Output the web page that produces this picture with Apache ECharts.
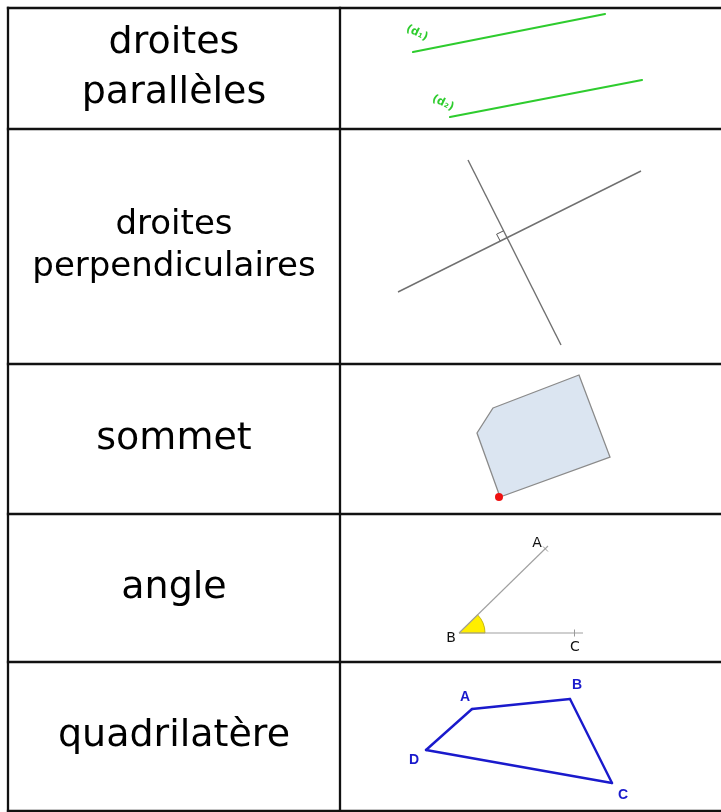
<!DOCTYPE html>
<html><head><meta charset="utf-8">
<script src="https://cdn.jsdelivr.net/npm/echarts@6/dist/echarts.min.js"></script>
<style>html,body{margin:0;padding:0;background:#fff}#c{width:721px;height:812px}</style>
</head><body><div id="c"></div>
<script>
// ---- table layout values ----
const columnX = [8, 340];
const tableRight = 721;
const rowY = [8, 129, 364, 514, 662, 811];
const terms = [['droites', 'parallèles'], ['droites', 'perpendiculaires'], ['sommet'], ['angle'], ['quadrilatère']];

// ---- row 1: parallel lines ----
const parallelLines = [[413, 52, 605, 14], [450, 117, 642, 80]];
const parallelNames = ['(d₁)', '(d₂)'];
const parallelNamePos = [[417, 33], [443, 103]];

// ---- row 2: perpendicular lines ----
const perpLines = [[398, 292, 641, 171], [468, 160, 561, 345]];
const rightAngleMark = [[500.2, 241.0], [496.6, 234.2], [503.6, 230.8]];

// ---- row 3: vertex of a polygon ----
const sommetPolygon = [[493, 408], [579, 375], [610, 457], [500, 497], [477, 433]];
const sommetVertex = [[499, 497]];

// ---- row 4: angle ABC ----
const angleVertex = [459, 633];
const angleRayEnds = [[548, 546], [583, 633]];
const angleTicks = [[545.5, 549], [574.5, 633]];
const angleNames = ['A', 'B', 'C'];
const angleNamePos = [[537, 543], [451, 638], [575, 647]];

// ---- row 5: quadrilateral ABCD ----
const quadNames = ['A', 'B', 'C', 'D'];
const quadPoints = [[472, 709], [570, 699], [612, 783], [426, 750]];
const quadNamePos = [[465, 697], [577, 685], [623, 795], [414, 760]];

// ---------------------------------------------------------------
const FONT = '"DejaVu Sans", sans-serif';

function custom(data, renderItem, z) {
  return { type: 'custom', coordinateSystem: 'cartesian2d', clip: false, silent: true,
    z: z || 2, animation: false, data: data, renderItem: renderItem };
}
function segRender(style) {
  return function (params, api) {
    const p1 = api.coord([api.value(0), api.value(1)]);
    const p2 = api.coord([api.value(2), api.value(3)]);
    return { type: 'line', shape: { x1: p1[0], y1: p1[1], x2: p2[0], y2: p2[1] },
      style: Object.assign({ fill: null, lineCap: 'square' }, style) };
  };
}
function textRender(labels, styleFn, rot) {
  return function (params, api) {
    const p = api.coord([api.value(0), api.value(1)]);
    return { type: 'text', x: p[0], y: p[1], rotation: rot || 0,
      style: Object.assign({ text: labels[params.dataIndex], align: 'center', verticalAlign: 'middle' },
        styleFn(params.dataIndex)) };
  };
}

// table segments
const tableSegs = [];
rowY.forEach(y => tableSegs.push([columnX[0], y, tableRight, y]));
columnX.forEach(x => tableSegs.push([x, rowY[0], x, rowY[rowY.length - 1]]));

const termPos = terms.map((t, i) => [(columnX[0] + columnX[1]) / 2, (rowY[i] + rowY[i + 1]) / 2]);
const termText = terms.map(t => t.join('\n'));

// angle segments
const angleRays = angleRayEnds.map(e => [angleVertex[0], angleVertex[1], e[0], e[1]]);
const ax = angleRayEnds[0][0] - angleVertex[0], ay = angleRayEnds[0][1] - angleVertex[1];
const aLen = Math.hypot(ax, ay);
const nx = -ay / aLen, ny = ax / aLen;
const tickSegs = [
  [angleTicks[0][0] - 3.5 * nx, angleTicks[0][1] - 3.5 * ny, angleTicks[0][0] + 3.5 * nx, angleTicks[0][1] + 3.5 * ny],
  [angleTicks[1][0], angleTicks[1][1] - 3.5, angleTicks[1][0], angleTicks[1][1] + 3.5]
];

const quadSegs = quadPoints.map((p, i) => {
  const q = quadPoints[(i + 1) % quadPoints.length];
  return [p[0], p[1], q[0], q[1]];
});

const series = [
  custom(tableSegs, segRender({ stroke: '#111', lineWidth: 2.3 }), 10),
  custom(termPos, textRender(termText, i => ({
    fill: '#000', fontFamily: FONT, fontSize: i === 1 ? 34 : 38, lineHeight: i === 1 ? 42 : 50
  })), 5),
  custom(parallelLines, segRender({ stroke: '#2ecc2e', lineWidth: 2.2, lineCap: 'round' })),
  custom(parallelNamePos, textRender(parallelNames, () => ({
    fill: '#2ecc2e', fontFamily: FONT, fontSize: 11, fontWeight: 'bold'
  }), -0.45)),
  custom(perpLines, segRender({ stroke: '#707070', lineWidth: 1.4, lineCap: 'butt' })),
  custom([rightAngleMark[0]], function (params, api) {
    const pts = rightAngleMark.map(p => api.coord(p));
    return { type: 'polyline', shape: { points: pts }, style: { fill: null, stroke: '#555', lineWidth: 1 } };
  }),
  custom([sommetPolygon[0]], function (params, api) {
    const pts = sommetPolygon.map(p => api.coord(p));
    return { type: 'polygon', shape: { points: pts }, style: { fill: '#dbe5f1', stroke: '#8a8a8a', lineWidth: 1.3 } };
  }),
  custom(sommetVertex, function (params, api) {
    const p = api.coord([api.value(0), api.value(1)]);
    return { type: 'circle', shape: { cx: p[0], cy: p[1], r: 4 }, style: { fill: '#ee1111' } };
  }),
  custom([angleVertex], function (params, api) {
    const b = api.coord(angleVertex);
    const a = api.coord(angleRayEnds[0]);
    const start = Math.atan2(a[1] - b[1], a[0] - b[0]);
    return { type: 'sector', shape: { cx: b[0], cy: b[1], r0: 0, r: 26, startAngle: start, endAngle: 0, clockwise: true },
      style: { fill: '#ffee00', stroke: '#b8a800', lineWidth: 0.8 } };
  }, 1),
  custom(angleRays, segRender({ stroke: '#a0a0a0', lineWidth: 1.1, lineCap: 'butt' })),
  custom(tickSegs, segRender({ stroke: '#999', lineWidth: 1, lineCap: 'butt' })),
  custom(angleNamePos, textRender(angleNames, () => ({
    fill: '#111', fontFamily: FONT, fontSize: 14
  }))),
  custom(quadSegs, segRender({ stroke: '#1a1acc', lineWidth: 2.4, lineCap: 'round' })),
  custom(quadNamePos, textRender(quadNames, () => ({
    fill: '#1a1acc', fontFamily: '"Liberation Sans", Arial, sans-serif', fontSize: 14, fontWeight: 'bold'
  })))
];

const chart = echarts.init(document.getElementById('c'), null, { renderer: 'canvas' });
chart.setOption({
  backgroundColor: '#ffffff',
  animation: false,
  grid: { left: 0, right: 0, top: 0, bottom: 0 },
  xAxis: { type: 'value', min: 0, max: 721, show: false },
  yAxis: { type: 'value', min: 0, max: 812, inverse: true, show: false },
  series: series
});
</script>
</body></html>
